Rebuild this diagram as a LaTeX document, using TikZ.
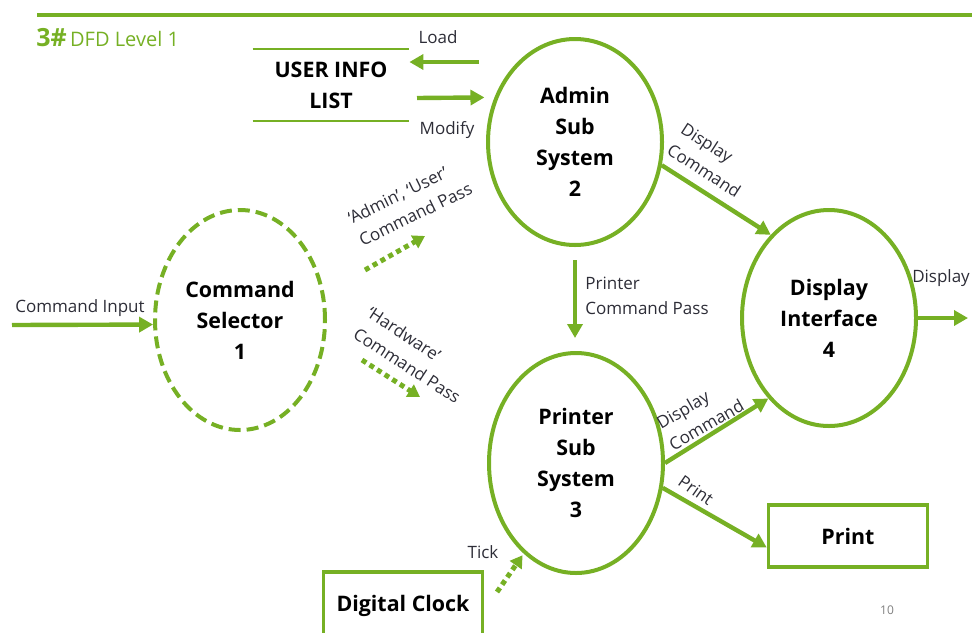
\documentclass[tikz,border=0pt]{standalone}
\usepackage{fontspec}
\setmainfont{Open Sans}
\usetikzlibrary{shapes.geometric,arrows.meta}
\definecolor{dfdgreen}{RGB}{118,176,36}
\definecolor{labelgray}{RGB}{45,45,55}

\begin{document}
\begin{tikzpicture}[x=0.5pt,y=-0.5pt,
        process/.style={ellipse, draw=dfdgreen, line width=2pt, inner sep=0pt, align=center,
            font=\fontsize{10.7}{15.5}\selectfont\bfseries},
        boxed/.style={draw=dfdgreen, line width=1.8pt, minimum width=79.5pt, inner sep=0pt,
            font=\fontsize{10.7}{15.5}\selectfont\bfseries},
        flow/.style={draw=dfdgreen, line width=2.2pt, -{Triangle[length=7pt,width=7.5pt]}},
        pass/.style={draw=dfdgreen, line width=2.5pt, dash pattern=on 2.5pt off 2pt,
            -{Triangle[length=6pt,width=7pt]}},
        lbl/.style={font=\fontsize{8.5}{12.5}\selectfont, text=labelgray, inner sep=0pt, align=left}]
        \useasboundingbox (0,0) rectangle (972,632);

        % header
        \coordinate (rl) at (37,15);
        \coordinate (rr) at (972,15);
        \draw[dfdgreen, line width=1.6pt] (rl) -- (rr);
        \node[anchor=west, text=dfdgreen, inner sep=0pt] (title) at (36,38)
            {{\fontsize{12.5}{14}\selectfont\bfseries 3\#}\,{\fontsize{10}{12}\selectfont DFD Level 1}};

        % processes
        \node[process, dashed, dash pattern=on 6pt off 3pt, minimum width=85pt, minimum height=110pt]
            (sel) at (240,320) {Command\\Selector\\1};
        \node[process, minimum width=87pt, minimum height=103pt] (admin) at (575,142) {Admin\\Sub\\System\\2};
        \node[process, minimum width=87pt, minimum height=110pt] (prn) at (576,463) {Printer\\Sub\\System\\3};
        \node[process, minimum width=87pt, minimum height=108pt] (disp) at (829,318) {Display\\Interface\\4};

        % store and terminators
        \node[align=center, inner sep=0pt, minimum width=78pt, minimum height=35.5pt,
            font=\fontsize{10.7}{15.5}\selectfont\bfseries] (store) at (331,85) {USER INFO\\LIST};
        \draw[dfdgreen, line width=1pt] (store.north west) -- (store.north east);
        \draw[dfdgreen, line width=1pt] (store.south west) -- (store.south east);
        \node[boxed, minimum height=31pt] (print) at (848,536) {Print};
        \node[boxed, minimum height=34pt] (clock) at (403,606) {Digital Clock};

        % flows
        \coordinate (inp) at (12,325);
        \coordinate (ld1) at (479,62);
        \coordinate (md1) at (417,98);
        \coordinate (dout) at (968,318);
        \coordinate (au1) at (365,270);
        \coordinate (au2) at (425,236);
        \coordinate (hw1) at (362,360);
        \coordinate (hw2) at (420,397);
        \coordinate (tk) at (497,592);
        \draw[flow] (inp) -- (sel.183);
        \draw[flow] (ld1) -- (ld1 -| store.east);
        \draw[flow, shorten >=5pt] (md1) -- (admin.151);
        \draw[flow] (admin.-15) -- (disp.125);
        \draw[flow, shorten <=6.5pt, shorten >=6.5pt] (admin.south) -- (admin.south |- prn.north);
        \draw[flow] (prn.east) -- (disp.233);
        \draw[flow] (prn.-16) -- (print.188);
        \draw[flow] (disp.east) -- (dout);
        \draw[pass] (au1) -- (au2);
        \draw[pass] (hw1) -- (hw2);
        \draw[pass, shorten >=1pt] (tk) -- (prn.240);

        % labels
        \node[lbl] (linput) at (80,308) {Command Input};
        \node[lbl] (lload) at (438,37) {Load};
        \node[lbl] (lmodify) at (447,130) {Modify};
        \node[lbl, rotate=26] (lau) at (410,203) {‘Admin’, ‘User’\\Command Pass};
        \node[lbl, rotate=-33] (lhw) at (414,355) {‘Hardware’\\Command Pass};
        \node[lbl, rotate=-33] (ldc1) at (711,160) {Display\\Command};
        \node[lbl, rotate=30] (ldc2) at (700,414) {Display\\Command};
        \node[lbl, rotate=-35] (lprint) at (696,490) {Print};
        \node[lbl] (ltick) at (483,552) {Tick};
        \node[lbl, anchor=west] (lpcp) at (585,296) {Printer\\Command Pass};
        \node[lbl] (lout) at (941,278) {Display};
        \node[font=\fontsize{6}{7}\selectfont, text=gray, inner sep=0pt] (pgno) at (887,610) {10};
\end{tikzpicture}
\end{document}
